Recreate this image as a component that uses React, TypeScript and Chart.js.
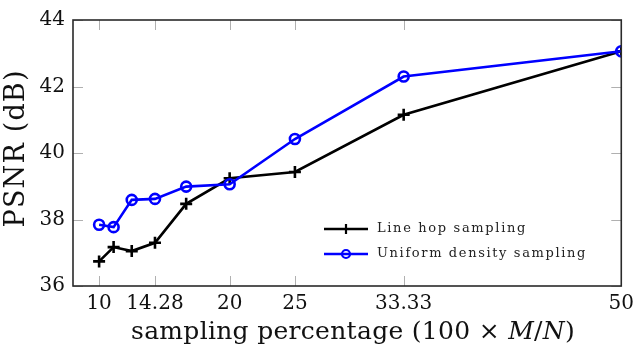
import React, { useEffect, useRef } from "react";
import { Chart, registerables } from "chart.js";

Chart.register(...registerables);

const xValues = [10, 11.11, 12.5, 14.28, 16.67, 20, 25, 33.33, 50];
const lineHop = [36.74, 37.17, 37.05, 37.3, 38.47, 39.24, 39.43, 41.15, 43.06];
const uniform = [37.84, 37.77, 38.59, 38.62, 38.99, 39.06, 40.42, 42.3, 43.06];
const xTicks = [10, 14.28, 20, 25, 33.33, 50];
const xTickLabels = ["10", "14.28", "20", "25", "33.33", "50"];
const seriesNames = ["Line hop sampling", "Uniform density sampling"];

const SERIF = "'DejaVu Serif', 'Liberation Serif', serif";

function fitSpacing(ctx: any, text: string, target: number) {
  ctx.letterSpacing = "0px";
  const w = ctx.measureText(text).width;
  return Math.max(0, (target - w) / text.length);
}

const decorPlugin = {
  id: "decor",
  beforeDatasetsDraw(chart: any) {
    const { ctx, chartArea: a, scales } = chart;
    ctx.save();
    ctx.strokeStyle = "#b0b0b0";
    ctx.lineWidth = 1;
    const tl = 10;
    scales.x.ticks.forEach((t: any) => {
      const px = Math.round(scales.x.getPixelForValue(t.value)) + 0.5;
      ctx.beginPath();
      ctx.moveTo(px, a.bottom);
      ctx.lineTo(px, a.bottom - tl);
      ctx.moveTo(px, a.top);
      ctx.lineTo(px, a.top + tl);
      ctx.stroke();
    });
    scales.y.ticks.forEach((t: any) => {
      const py = Math.round(scales.y.getPixelForValue(t.value)) + 0.5;
      ctx.beginPath();
      ctx.moveTo(a.left, py);
      ctx.lineTo(a.left + tl, py);
      ctx.moveTo(a.right, py);
      ctx.lineTo(a.right - tl, py);
      ctx.stroke();
    });
    ctx.restore();
  },
  afterDraw(chart: any) {
    const { ctx, chartArea: a } = chart;
    ctx.save();
    // frame
    ctx.strokeStyle = "#2a2a2a";
    ctx.lineWidth = 1.6;
    ctx.strokeRect(a.left, a.top, a.right - a.left, a.bottom - a.top);

    // x title with italic parts
    const parts: [string, boolean][] = [
      ["sampling percentage (100 \u00d7 ", false],
      ["M", true],
      ["/", false],
      ["N", true],
      [")", false],
    ];
    const size = 25;
    const fontN = `${size}px ${SERIF}`;
    const fontI = `italic ${size}px ${SERIF}`;
    let total = 0;
    let chars = 0;
    ctx.letterSpacing = "0px";
    parts.forEach(([s, it]) => {
      ctx.font = it ? fontI : fontN;
      total += ctx.measureText(s).width;
      chars += s.length;
    });
    const xStart = 131;
    const xEnd = 575;
    const sp = Math.max(0, (xEnd - xStart - total) / chars);
    ctx.letterSpacing = `${sp}px`;
    let x = xStart;
    ctx.fillStyle = "#111";
    ctx.textBaseline = "alphabetic";
    ctx.textAlign = "left";
    parts.forEach(([s, it]) => {
      ctx.font = it ? fontI : fontN;
      ctx.fillText(s, x, 339);
      x += ctx.measureText(s).width;
    });

    // y title
    ctx.save();
    ctx.translate(24, 149);
    ctx.rotate(-Math.PI / 2);
    ctx.font = `27px ${SERIF}`;
    const ysp = fitSpacing(ctx, "PSNR (dB)", 158);
    ctx.letterSpacing = `${ysp}px`;
    ctx.textAlign = "center";
    ctx.fillText("PSNR (dB)", ysp / 2, 0);
    ctx.restore();

    // legend
    const ds = chart.data.datasets;
    const lx0 = 324;
    const lx1 = 368;
    const ys = [229, 254];
    const ends = [527, 587];
    ds.forEach((d: any, i: number) => {
      const y = ys[i];
      ctx.letterSpacing = "0px";
      ctx.strokeStyle = d.borderColor;
      ctx.lineWidth = 2.6;
      ctx.beginPath();
      ctx.moveTo(lx0, y);
      ctx.lineTo(lx1, y);
      ctx.stroke();
      const mx = (lx0 + lx1) / 2;
      ctx.beginPath();
      if (d.pointStyle === "circle") {
        ctx.arc(mx, y, 4, 0, Math.PI * 2);
      } else {
        ctx.moveTo(mx, y - 5);
        ctx.lineTo(mx, y + 5);
        ctx.moveTo(mx - 5, y);
        ctx.lineTo(mx + 5, y);
      }
      ctx.lineWidth = 2.2;
      ctx.stroke();
      ctx.fillStyle = "#222";
      ctx.font = `13px ${SERIF}`;
      const lsp = fitSpacing(ctx, d.label, ends[i] - 377);
      ctx.letterSpacing = `${lsp}px`;
      ctx.textAlign = "left";
      ctx.textBaseline = "middle";
      ctx.fillText(d.label, 377, y);
    });
    ctx.letterSpacing = "0px";
    ctx.restore();
  },
};

export default function App() {
  const ref = useRef<HTMLCanvasElement>(null);
  useEffect(() => {
    if (!ref.current) return;
    const chart = new Chart(ref.current, {
      type: "line",
      data: {
        datasets: [
          {
            label: seriesNames[0],
            data: xValues.map((x, i) => ({ x, y: lineHop[i] })),
            borderColor: "#000000",
            backgroundColor: "transparent",
            borderWidth: 2.6,
            pointStyle: "cross",
            pointRadius: 6,
            pointBorderWidth: 2.6,
            pointBorderColor: "#000000",
            pointBackgroundColor: "transparent",
            tension: 0,
            order: 1,
          },
          {
            label: seriesNames[1],
            data: xValues.map((x, i) => ({ x, y: uniform[i] })),
            borderColor: "#0000ff",
            backgroundColor: "transparent",
            borderWidth: 2.6,
            pointStyle: "circle",
            pointRadius: 5,
            pointBorderWidth: 2.6,
            pointBorderColor: "#0000ff",
            pointBackgroundColor: "transparent",
            tension: 0,
            order: 0,
          },
        ],
      },
      options: {
        animation: false,
        responsive: false,
        layout: { padding: { top: 8, right: 12, left: 0, bottom: 0 } },
        plugins: { legend: { display: false }, tooltip: { enabled: false } },
        scales: {
          x: {
            type: "linear",
            min: 8,
            max: 50,
            afterBuildTicks: (s: any) => {
              s.ticks = xTicks.map((v) => ({ value: v }));
            },
            afterFit: (s: any) => {
              s.height = 62;
            },
            grid: { display: false, drawTicks: false },
            border: { display: false },
            ticks: {
              autoSkip: false,
              maxRotation: 0,
              padding: 6,
              color: "#111",
              font: { family: SERIF, size: 20 },
              callback: (v: any) => {
                const i = xTicks.indexOf(Number(v));
                return i >= 0 ? xTickLabels[i] : "";
              },
            },
          },
          y: {
            min: 36,
            max: 44,
            afterFit: (s: any) => {
              s.width = 73;
            },
            grid: { display: false, drawTicks: false },
            border: { display: false },
            ticks: {
              stepSize: 2,
              padding: 8,
              color: "#111",
              font: { family: SERIF, size: 20 },
            },
          },
        },
      },
      plugins: [decorPlugin],
    });
    return () => chart.destroy();
  }, []);
  return (
    <div style={{ position: "fixed", left: 0, top: 0, width: 640, height: 348, background: "#fff" }}>
      <canvas ref={ref} width={640} height={348} />
    </div>
  );
}
